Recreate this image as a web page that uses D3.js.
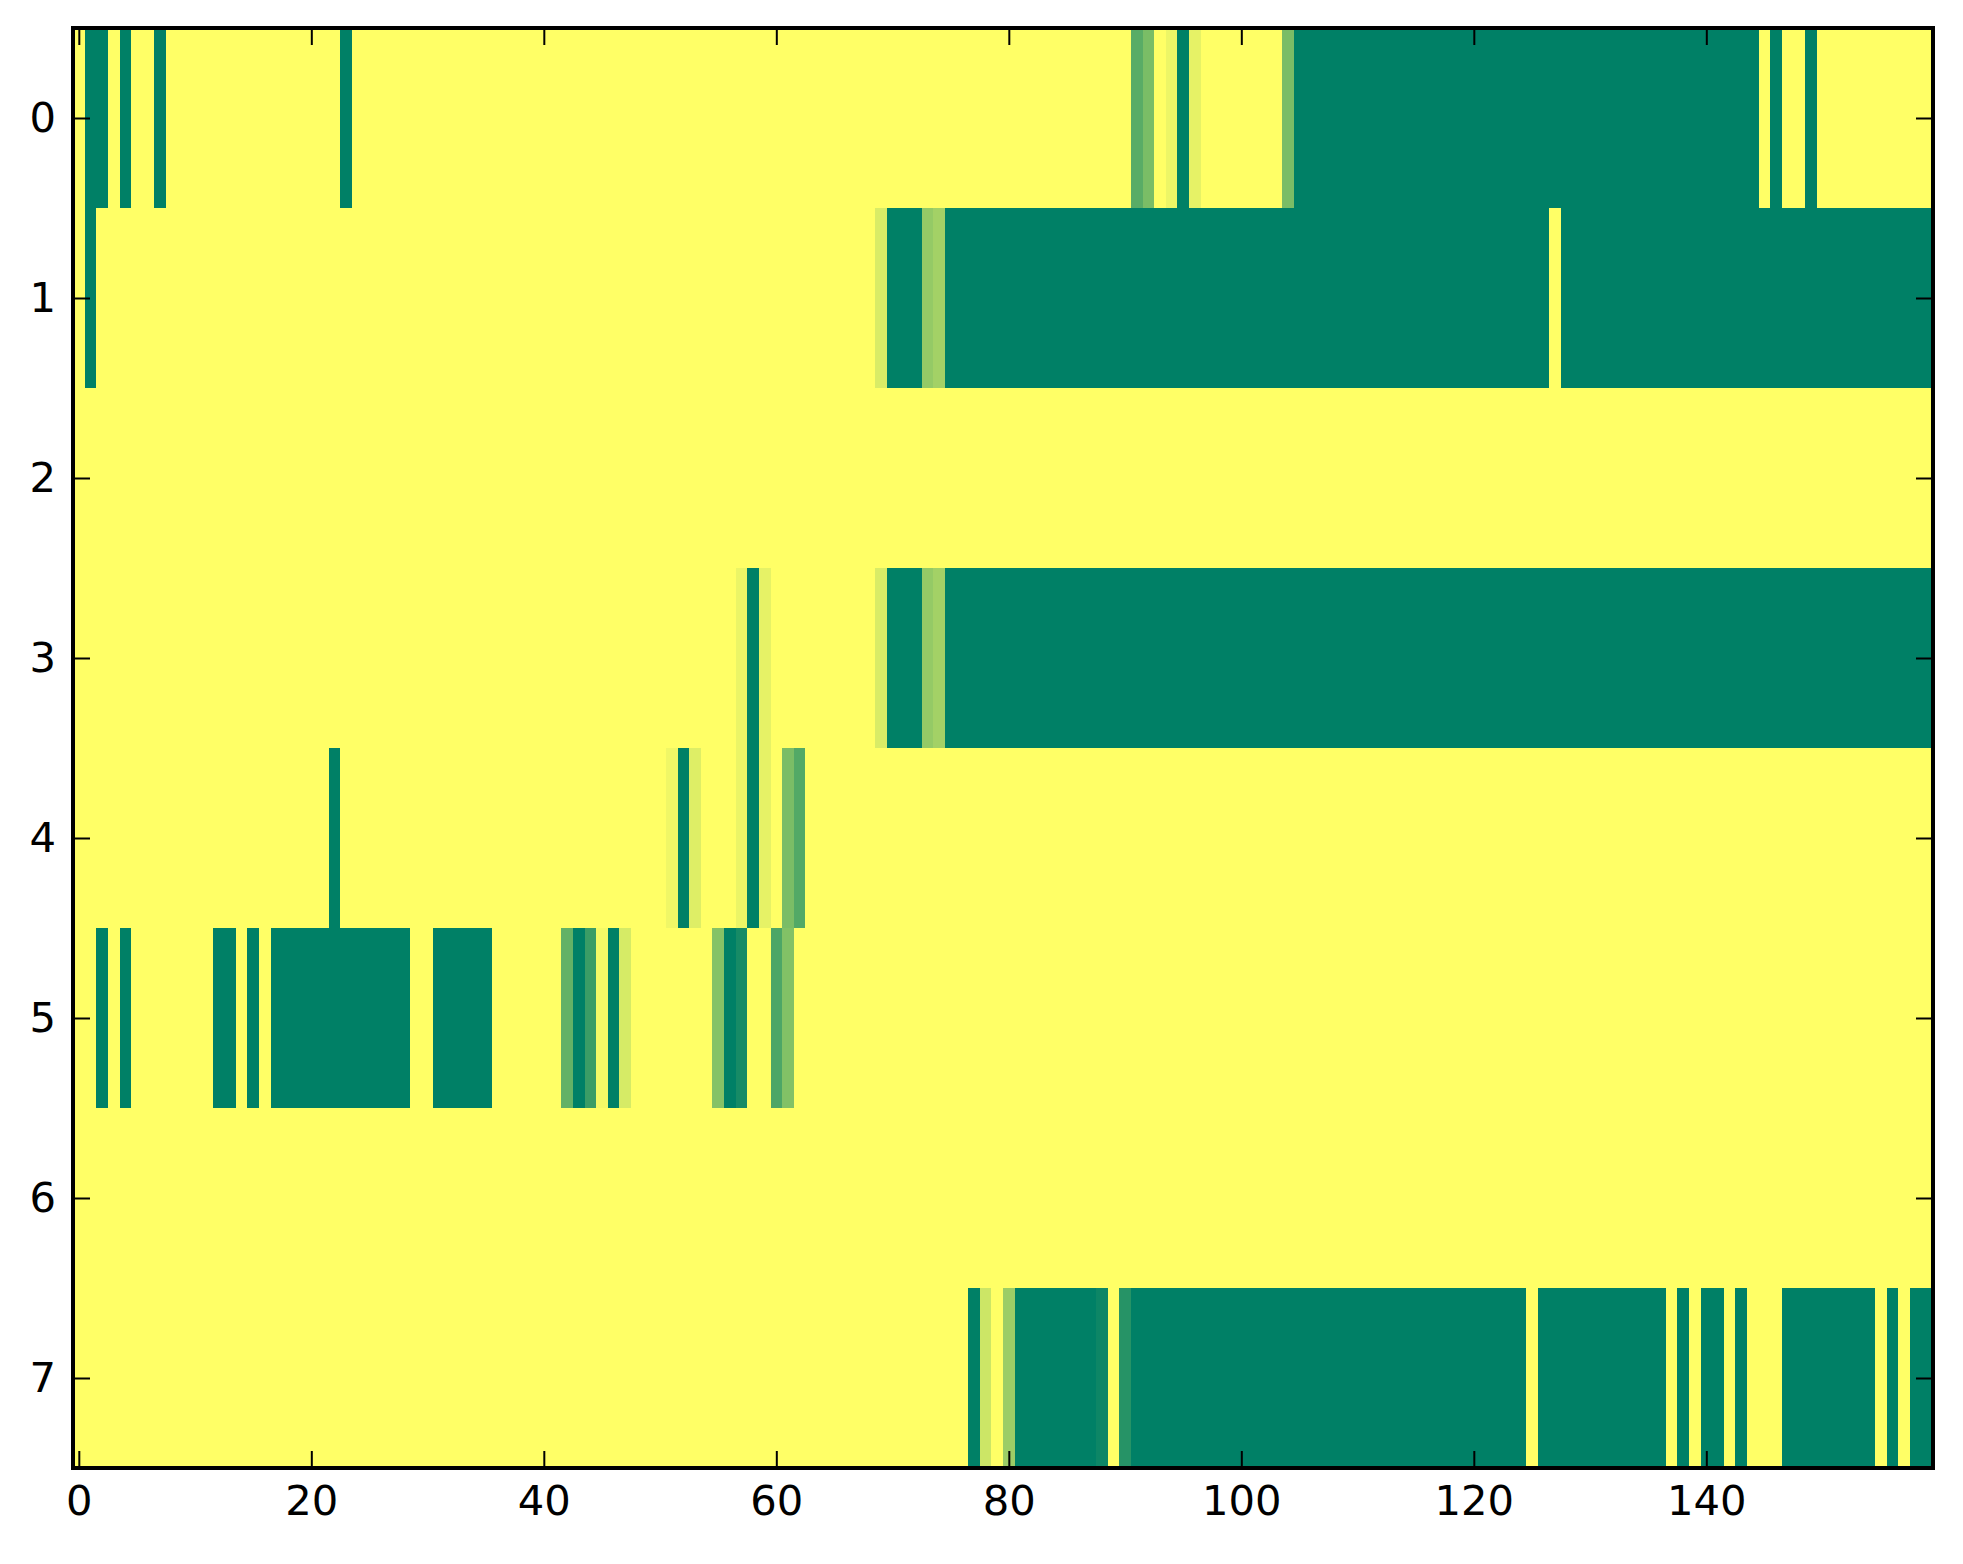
<!DOCTYPE html>
<html lang="en">
<head>
<meta charset="utf-8">
<title>Heatmap</title>
<script src="https://cdn.jsdelivr.net/npm/d3@7"></script>
<style>
  body { margin: 0; background: #fff; }
  svg { display: block; }
  .axis text { font-family: "DejaVu Sans", sans-serif; font-size: 41.7px; fill: #000; }
  .axis line { stroke: #000; stroke-width: 2px; }
  .axis path { display: none; }
</style>
</head>
<body>
<svg width="1963" height="1564"></svg>
<script>
// one array per row (160 columns, values 0..1 on the "summer" colormap)
var row0 = [
  1,0,0,1,0,1,1,0,1,1, 1,1,1,1,1,1,1,1,1,1,
  1,1,1,0,1,1,1,1,1,1, 1,1,1,1,1,1,1,1,1,1,
  1,1,1,1,1,1,1,1,1,1, 1,1,1,1,1,1,1,1,1,1,
  1,1,1,1,1,1,1,1,1,1, 1,1,1,1,1,1,1,1,1,1,
  1,1,1,1,1,1,1,1,1,1, 1,.35,.48,1,.93,0,.9,1,1,1,
  1,1,1,1,.48,0,0,0,0,0, 0,0,0,0,0,0,0,0,0,0,
  0,0,0,0,0,0,0,0,0,0, 0,0,0,0,0,0,0,0,0,0,
  0,0,0,0,0,1,0,1,1,0, 1,1,1,1,1,1,1,1,1,1
];
var row1 = [
  1,0,1,1,1,1,1,1,1,1, 1,1,1,1,1,1,1,1,1,1,
  1,1,1,1,1,1,1,1,1,1, 1,1,1,1,1,1,1,1,1,1,
  1,1,1,1,1,1,1,1,1,1, 1,1,1,1,1,1,1,1,1,1,
  1,1,1,1,1,1,1,1,1,.85, 0,0,0,.58,.64,0,0,0,0,0,
  0,0,0,0,0,0,0,0,0,0, 0,0,0,0,0,0,0,0,0,0,
  0,0,0,0,0,0,0,0,0,0, 0,0,0,0,0,0,0,0,0,0,
  0,0,0,0,0,0,0,1,0,0, 0,0,0,0,0,0,0,0,0,0,
  0,0,0,0,0,0,0,0,0,0, 0,0,0,0,0,0,0,0,0,0
];
var row2 = [
  1,1,1,1,1,1,1,1,1,1, 1,1,1,1,1,1,1,1,1,1,
  1,1,1,1,1,1,1,1,1,1, 1,1,1,1,1,1,1,1,1,1,
  1,1,1,1,1,1,1,1,1,1, 1,1,1,1,1,1,1,1,1,1,
  1,1,1,1,1,1,1,1,1,1, 1,1,1,1,1,1,1,1,1,1,
  1,1,1,1,1,1,1,1,1,1, 1,1,1,1,1,1,1,1,1,1,
  1,1,1,1,1,1,1,1,1,1, 1,1,1,1,1,1,1,1,1,1,
  1,1,1,1,1,1,1,1,1,1, 1,1,1,1,1,1,1,1,1,1,
  1,1,1,1,1,1,1,1,1,1, 1,1,1,1,1,1,1,1,1,1
];
var row3 = [
  1,1,1,1,1,1,1,1,1,1, 1,1,1,1,1,1,1,1,1,1,
  1,1,1,1,1,1,1,1,1,1, 1,1,1,1,1,1,1,1,1,1,
  1,1,1,1,1,1,1,1,1,1, 1,1,1,1,1,1,1,.92,0,.9,
  1,1,1,1,1,1,1,1,1,.85, 0,0,0,.58,.64,0,0,0,0,0,
  0,0,0,0,0,0,0,0,0,0, 0,0,0,0,0,0,0,0,0,0,
  0,0,0,0,0,0,0,0,0,0, 0,0,0,0,0,0,0,0,0,0,
  0,0,0,0,0,0,0,0,0,0, 0,0,0,0,0,0,0,0,0,0,
  0,0,0,0,0,0,0,0,0,0, 0,0,0,0,0,0,0,0,0,0
];
var row4 = [
  1,1,1,1,1,1,1,1,1,1, 1,1,1,1,1,1,1,1,1,1,
  1,1,0,1,1,1,1,1,1,1, 1,1,1,1,1,1,1,1,1,1,
  1,1,1,1,1,1,1,1,1,1, 1,.94,0,.87,1,1,1,.92,0,.9,
  1,.48,.32,1,1,1,1,1,1,1, 1,1,1,1,1,1,1,1,1,1,
  1,1,1,1,1,1,1,1,1,1, 1,1,1,1,1,1,1,1,1,1,
  1,1,1,1,1,1,1,1,1,1, 1,1,1,1,1,1,1,1,1,1,
  1,1,1,1,1,1,1,1,1,1, 1,1,1,1,1,1,1,1,1,1,
  1,1,1,1,1,1,1,1,1,1, 1,1,1,1,1,1,1,1,1,1
];
var row5 = [
  1,1,0,1,0,1,1,1,1,1, 1,1,0,0,1,0,1,0,0,0,
  0,0,0,0,0,0,0,0,0,1, 1,0,0,0,0,0,1,1,1,1,
  1,1,.39,0,.23,.96,0,.84,1,1, 1,1,1,1,1,.52,0,.09,1,1,
  .3,.51,1,1,1,1,1,1,1,1, 1,1,1,1,1,1,1,1,1,1,
  1,1,1,1,1,1,1,1,1,1, 1,1,1,1,1,1,1,1,1,1,
  1,1,1,1,1,1,1,1,1,1, 1,1,1,1,1,1,1,1,1,1,
  1,1,1,1,1,1,1,1,1,1, 1,1,1,1,1,1,1,1,1,1,
  1,1,1,1,1,1,1,1,1,1, 1,1,1,1,1,1,1,1,1,1
];
var row6 = [
  1,1,1,1,1,1,1,1,1,1, 1,1,1,1,1,1,1,1,1,1,
  1,1,1,1,1,1,1,1,1,1, 1,1,1,1,1,1,1,1,1,1,
  1,1,1,1,1,1,1,1,1,1, 1,1,1,1,1,1,1,1,1,1,
  1,1,1,1,1,1,1,1,1,1, 1,1,1,1,1,1,1,1,1,1,
  1,1,1,1,1,1,1,1,1,1, 1,1,1,1,1,1,1,1,1,1,
  1,1,1,1,1,1,1,1,1,1, 1,1,1,1,1,1,1,1,1,1,
  1,1,1,1,1,1,1,1,1,1, 1,1,1,1,1,1,1,1,1,1,
  1,1,1,1,1,1,1,1,1,1, 1,1,1,1,1,1,1,1,1,1
];
var row7 = [
  1,1,1,1,1,1,1,1,1,1, 1,1,1,1,1,1,1,1,1,1,
  1,1,1,1,1,1,1,1,1,1, 1,1,1,1,1,1,1,1,1,1,
  1,1,1,1,1,1,1,1,1,1, 1,1,1,1,1,1,1,1,1,1,
  1,1,1,1,1,1,1,1,1,1, 1,1,1,1,1,1,1,0,.8,1,
  .61,0,0,0,0,0,0,0,.05,1, .15,0,0,0,0,0,0,0,0,0,
  0,0,0,0,0,0,0,0,0,0, 0,0,0,0,0,0,0,0,0,0,
  0,0,0,0,0,1,0,0,0,0, 0,0,0,0,0,0,0,1,0,1,
  0,0,1,0,1,1,1,0,0,0, 0,0,0,0,0,1,0,1,0,0
];
var rows = [row0, row1, row2, row3, row4, row5, row6, row7];
var xTicks = [0, 20, 40, 60, 80, 100, 120, 140];
var yTicks = [0, 1, 2, 3, 4, 5, 6, 7];

var svg = d3.select("svg"),
    margin = {top: 28, right: 30, bottom: 96, left: 73},
    width = +svg.attr("width") - margin.left - margin.right,
    height = +svg.attr("height") - margin.top - margin.bottom,
    g = svg.append("g").attr("transform", "translate(" + margin.left + "," + margin.top + ")");

var nCols = rows[0].length;

var x = d3.scaleLinear().domain([-0.5, nCols - 0.5]).range([0, width]);
var y = d3.scaleLinear().domain([-0.5, rows.length - 0.5]).range([0, height]);

// matplotlib "summer": (v, 0.5 + 0.5v, 0.4)
var color = d3.scaleLinear().domain([0, 1]).range(["#008066", "#ffff66"]);

// cells
var cells = [];
rows.forEach(function(r, ri) {
    r.forEach(function(v, ci) { cells.push({row: ri, col: ci, value: v}); });
});

g.append("g")
    .attr("shape-rendering", "crispEdges")
    .selectAll("rect")
    .data(cells)
    .enter().append("rect")
    .attr("x", function(d) { return x(d.col - 0.5); })
    .attr("y", function(d) { return y(d.row - 0.5); })
    .attr("width", function(d) { return x(d.col + 0.5) - x(d.col - 0.5) + 0.5; })
    .attr("height", function(d) { return y(d.row + 0.5) - y(d.row - 0.5) + 0.5; })
    .attr("fill", function(d) { return color(d.value); });

// ticks pointing inward on all four sides
var tickLen = 17, pad = 17;

g.append("g")
    .attr("class", "axis")
    .attr("transform", "translate(0," + height + ")")
    .call(d3.axisBottom(x).tickValues(xTicks).tickSize(-tickLen).tickPadding(pad));

g.append("g")
    .attr("class", "axis")
    .call(d3.axisTop(x).tickValues(xTicks).tickSize(-tickLen).tickFormat(""));

g.append("g")
    .attr("class", "axis")
    .call(d3.axisLeft(y).tickValues(yTicks).tickSize(-tickLen).tickPadding(pad));

g.append("g")
    .attr("class", "axis")
    .attr("transform", "translate(" + width + ",0)")
    .call(d3.axisRight(y).tickValues(yTicks).tickSize(-tickLen).tickFormat(""));

// frame
g.append("rect")
    .attr("width", width)
    .attr("height", height)
    .attr("fill", "none")
    .attr("stroke", "#000")
    .attr("stroke-width", 4);
</script>
</body>
</html>
